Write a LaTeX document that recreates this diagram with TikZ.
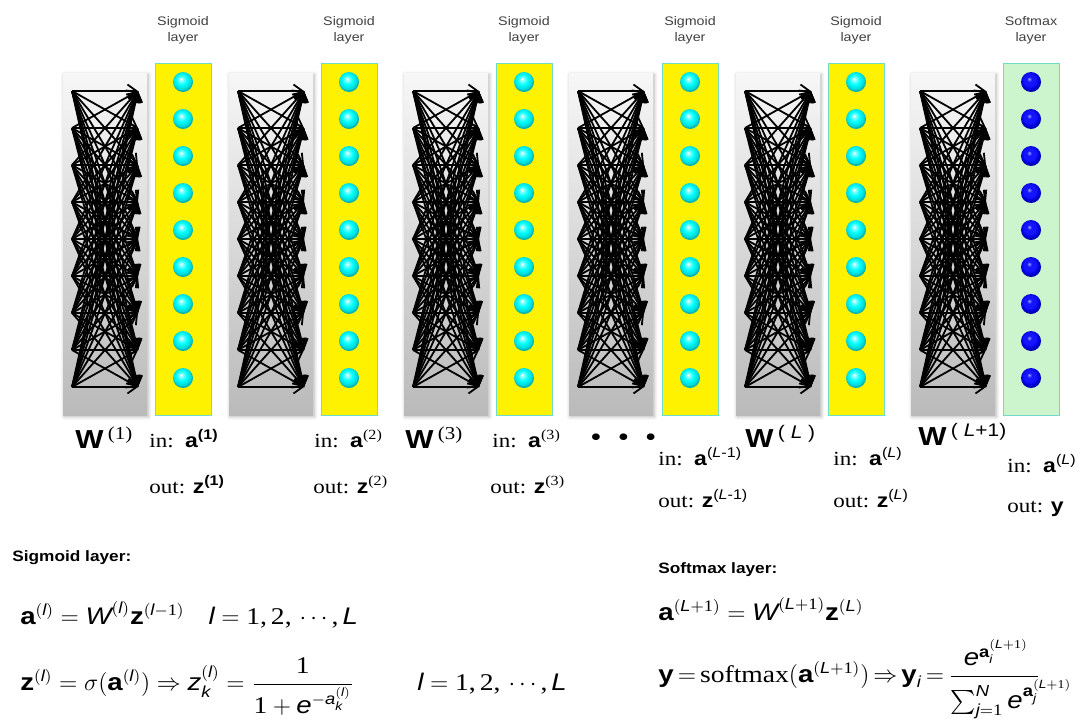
\documentclass[tikz,border=0pt]{standalone}
\usepackage{amsmath}
\usepackage{mathtools}
\usepackage{fontspec}
\setmainfont{Liberation Serif}[FakeStretch=1.15]
\setsansfont{Liberation Sans}[FakeStretch=1.15]
\usepackage{tikz}
\usetikzlibrary{positioning, shadows, shadows.blur, arrows.meta}

\definecolor{bordo}{RGB}{110,220,200}
\definecolor{verdino}{RGB}{205,245,205}
\definecolor{grigiosu}{RGB}{247,247,247}
\definecolor{grigiogiu}{RGB}{186,186,186}
\definecolor{blu}{RGB}{20,20,255}

% Sfumature delle palline
\pgfdeclareradialshading{pallaciano}{\pgfpoint{-5bp}{8bp}}{color(0bp)=(white); color(5bp)=(cyan!50!white);
  color(13bp)=(cyan); color(22bp)=(cyan!85!black); color(25bp)=(cyan!70!black); color(50bp)=(cyan!60!black)}
\pgfdeclareradialshading{pallablu}{\pgfpoint{-5bp}{8bp}}{color(0bp)=(blue!35!white); color(6bp)=(blu);
  color(15bp)=(blu); color(22bp)=(blue!85!black); color(25bp)=(blue!70!black); color(50bp)=(blue!50!black)}

\newcommand{\sfb}[1]{\text{\sffamily\bfseries #1}}
\newcommand{\sfi}[1]{\text{\sffamily\itshape #1}}
\newcommand{\tx}[1]{\text{\rmfamily #1}}

\tikzset{
  pesi/.style={minimum width=42pt, minimum height=171pt, inner sep=0pt, top color=grigiosu, bottom color=grigiogiu,
    blur shadow={shadow blur steps=6, shadow xshift=0.6pt, shadow yshift=-0.8pt, shadow opacity=30}},
  sigbox/.style={draw=bordo, line width=0.5pt, fill=yellow, minimum width=28pt, minimum height=176pt, inner sep=0pt},
  softbox/.style={sigbox, fill=verdino},
  neur/.style={circle, minimum size=10pt, inner sep=0pt, shading=pallaciano},
  neurmax/.style={circle, minimum size=10pt, inner sep=0pt, shading=pallablu},
  syn/.style={line width=0.9pt, -{Straight Barb[length=4.5pt, width=6.5pt]}},
  tit/.style={font=\sffamily\fontsize{6.2}{7.8}\selectfont, align=center, text=black!75},
  lab/.style={font=\fontsize{10}{12}\selectfont, anchor=base west, inner sep=0pt},
  peso/.style={font=\fontsize{13}{15}\selectfont, anchor=base west, inner sep=0pt},
  form/.style={font=\fontsize{12}{14}\selectfont, anchor=base west, inner sep=0pt},
  sez/.style={font=\sffamily\bfseries\fontsize{7.5}{9}\selectfont, anchor=base west, inner sep=0pt}
}

\begin{document}
\begin{tikzpicture}[x=0.5pt, y=-0.5pt]
        \useasboundingbox (0,0) rectangle (1080,723);

        % Blocchi: pesi, strato, neuroni
        \foreach \b/\g/\c/\scatola/\palla/\nome in {1/63/183/sigbox/neur/Sigmoid,
                                                   2/229/349/sigbox/neur/Sigmoid,
                                                   3/404/524/sigbox/neur/Sigmoid,
                                                   4/569/690/sigbox/neur/Sigmoid,
                                                   5/736/856/sigbox/neur/Sigmoid,
                                                   6/911/1031/softbox/neurmax/Softmax} {
            % Matrice dei pesi
            \node[pesi] (w\b) at (\g+42,244) {};
            \foreach \i in {0,...,8} {
                \coordinate (s\b-\i) at (\g+9,91+37*\i);
                \coordinate (t\b-\i) at (\g+75,91+37*\i);
            }
            \foreach \i in {0,...,8}
                \foreach \j in {0,...,8}
                    \draw[syn] (s\b-\i) -- (t\b-\j);
            % Strato con i neuroni
            \node[\scatola] (lay\b) at (\c,239) {};
            \foreach \k in {0,...,8}
                \node[\palla] (n\b-\k) at (\c,82+37*\k) {};
            % Titolo dello strato
            \node[tit] (tit\b) at (\c,30) {\nome\\layer};
        }

        % Etichette sotto i blocchi
        \node[peso] (W1) at (75,448) {\textsf{\textbf{W}}\,\textsuperscript{(1)}};
        \node[lab] (in1) at (149,447) {in:\ \ \textsf{\textbf{a\textsuperscript{(1)}}}};
        \node[lab] (out1) at (149,493) {out: \textsf{\textbf{z\textsuperscript{(1)}}}};
        \node[lab] (in2) at (314,447) {in:\ \ \textsf{\textbf{a}}\textsuperscript{(2)}};
        \node[lab] (out2) at (313,493) {out: \textsf{\textbf{z}}\textsuperscript{(2)}};
        \node[peso] (W3) at (405,448) {\textsf{\textbf{W}}\,\textsuperscript{(3)}};
        \node[lab] (in3) at (492,447) {in:\ \ \textsf{\textbf{a}}\textsuperscript{(3)}};
        \node[lab] (out3) at (490,493) {out: \textsf{\textbf{z}}\textsuperscript{(3)}};
        \node[lab, font=\fontsize{14}{16}\selectfont] (punti) at (590,446) {\textbullet\ \ \textbullet\ \ \textbullet};
        \node[lab] (in4) at (658,465) {in:\ \ \textsf{\textbf{a}}\textsuperscript{\sffamily(\textit{L}-1)}};
        \node[lab] (out4) at (658,507) {out: \textsf{\textbf{z}}\textsuperscript{\sffamily(\textit{L}-1)}};
        \node[peso] (W5) at (745,447) {\textsf{\textbf{W}}\,\textsuperscript{\sffamily( \textit{L} )}};
        \node[lab] (in5) at (833,465) {in:\ \ \textsf{\textbf{a}}\textsuperscript{\sffamily(\textit{L})}};
        \node[lab] (out5) at (833,507) {out: \textsf{\textbf{z}}\textsuperscript{\sffamily(\textit{L})}};
        \node[peso] (W6) at (918,445) {\textsf{\textbf{W}}\,\textsuperscript{\sffamily( \textit{L}+1)}};
        \node[lab] (in6) at (1007,472) {in:\ \ \textsf{\textbf{a}}\textsuperscript{\sffamily(\textit{L})}};
        \node[lab] (out6) at (1007,512) {out: \textsf{\textbf{y}}};

        % Formule dello strato sigmoide
        \node[sez] (sezsig) at (12,561) {Sigmoid layer:};
        \node[form] (f1) at (20,624) {$\sfb{a}^{(\sfi{l})} = \sfi{W}^{(\sfi{l})}\sfb{z}^{(\sfi{l}-\tx{1})}\quad \sfi{l} = \tx{1,\,2,\,}\cdots\tx{,\,}\sfi{L}$};
        \node[form] (f2) at (20,690) {$\sfb{z}^{(\sfi{l})} = \sigma(\sfb{a}^{(\sfi{l})}) \Rightarrow \sfi{z}_{\sfi{k}}^{(\sfi{l})} = \dfrac{\tx{1}}{\tx{1}+\sfi{e}^{-\sfi{a}_{\sfi{k}}^{(\sfi{l})}}}$};
        \node[form] (f2r) at (417,690) {$\sfi{l} = \tx{1,\,2,\,}\cdots\tx{,\,}\sfi{L}$};

        % Formule dello strato softmax
        \node[sez] (sezsoft) at (658,573) {Softmax layer:};
        \node[form] (f3) at (658,620) {$\sfb{a}^{(\sfi{L}+\tx{1})} = \sfi{W}^{(\sfi{L}+\tx{1})}\sfb{z}^{(\sfi{L})}$};
        \node[form] (f4) at (658,682) {\thickmuskip=3mu $\sfb{y} = \tx{softmax}(\sfb{a}^{(\sfi{L}+\tx{1})}) \Rightarrow \sfb{y}_{\sfi{i}} = \dfrac{\;\sfi{e}^{\sfb{a}_{\sfi{i}}^{(\sfi{L}+\tx{1})}}}{\sum_{\sfi{j}=\tx{1}}^{\sfi{N}} \sfi{e}^{\sfb{a}_{\sfi{j}}^{\mathrlap{(\sfi{L}+\tx{1})}}}}$};

    \end{tikzpicture}
\end{document}
